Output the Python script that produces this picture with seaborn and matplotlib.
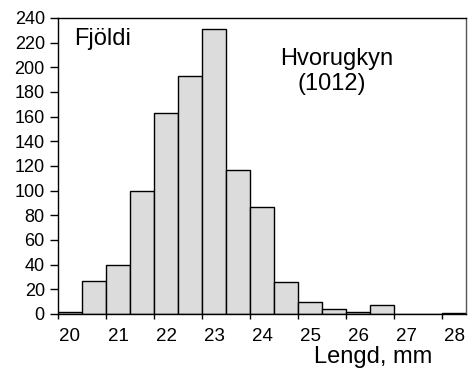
import matplotlib
matplotlib.use("Agg")
import matplotlib.pyplot as plt
import seaborn as sns
import numpy as np
import pandas as pd

sns.set_theme(style="white")
plt.rcParams['font.family'] = ['Liberation Sans', 'DejaVu Sans']
plt.rcParams['text.color'] = 'black'
plt.rcParams['xtick.color'] = 'black'
plt.rcParams['ytick.color'] = 'black'
plt.rcParams['axes.labelcolor'] = 'black'

bin_lefts = [20.0, 20.5, 21.0, 21.5, 22.0, 22.5, 23.0, 23.5, 24.0, 24.5,
             25.0, 25.5, 26.0, 26.5, 27.0, 27.5, 28.0]
counts = [2, 27, 40, 100, 163, 193, 231, 117, 87, 26, 10, 4, 2, 7, 0, 0, 1]
x_ticks = [20, 21, 22, 23, 24, 25, 26, 27, 28]
y_ticks = list(range(0, 241, 20))

df = pd.DataFrame({"lengd": bin_lefts, "n": counts})
edges = bin_lefts + [bin_lefts[-1] + 0.5]

W, H = 473, 368
fig = plt.figure(figsize=(W / 100, H / 100), dpi=100)
ax = fig.add_axes([58 / W, 54 / H, 408 / W, 296 / H])
sns.histplot(data=df, x="lengd", weights="n", bins=edges, ax=ax,
             color="#dcdcdc", edgecolor="black", linewidth=1.0, alpha=1.0)

ax.set_xlim(20, 28.5)
ax.set_ylim(0, 240)
ax.set_yticks(y_ticks)
ax.set_yticklabels([str(v) for v in y_ticks], fontsize=13, color="black")
ax.set_xticks(x_ticks)
ax.set_xticklabels([])
ax.set_xticks([v + 0.25 for v in x_ticks], minor=True)
ax.set_xticklabels([str(v) for v in x_ticks], minor=True, fontsize=13.5, color="black")
ax.tick_params(axis="x", which="minor", length=0, pad=10)
ax.tick_params(axis="x", which="major", direction="out", length=3.6, width=1, color="black", bottom=True)
ax.tick_params(axis="y", direction="out", length=6, width=1, color="black", left=True, pad=3.5)
ax.set_xlabel("")
ax.set_ylabel("")
for s in ax.spines.values():
    s.set_visible(True)
    s.set_color("black")
    s.set_linewidth(1.0)
ax.spines["right"].set_color("#555555")


def px_text(x, y, s, ha="left", size=17):
    fig.text(x / W, 1 - y / H, s, fontsize=size, ha=ha, va="baseline", color="black")


px_text(74, 44.5, "Fjöldi")
px_text(337, 65, "Hvorugkyn", ha="center")
px_text(332, 90, "(1012)", ha="center")
px_text(373, 363, "Lengd, mm", ha="center")

fig.savefig("out.png", dpi=100)
